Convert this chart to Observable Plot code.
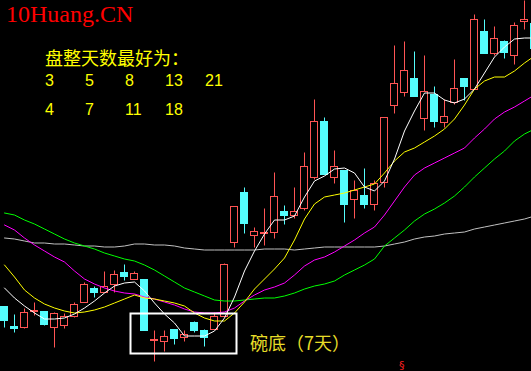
<!DOCTYPE html>
<html><head><meta charset="utf-8">
<script src="https://cdn.jsdelivr.net/npm/d3@7"></script>
<script src="https://cdn.jsdelivr.net/npm/@observablehq/plot@0.6"></script>
<style>
html,body{margin:0;padding:0;background:#000;}
#wrap{position:relative;width:531px;height:371px;overflow:hidden;background:#000;}
.lbl{position:absolute;white-space:nowrap;line-height:1;}
.cjk{font-family:"Noto Sans CJK SC","Noto Sans",sans-serif;}
</style></head><body><div id="wrap"></div>
<script>
// ---- data (price units) ----
const open  = [65,45,44,60,60,44,46,55,69,83,79,87,99,92,92,31,30,42,34,49,41,42,55,129,179,136,138,139,160,156,163,194,250,194,201,172,176,167,189,266,279,293,253,277,249,269,293,282,340,318,330,316,350,348];
const close = [51,43,59,61,47,58,55,67,87,79,85,97,95,98,41,32,35,33,37,41,34,55,107,165,148,140,139,175,156,160,205,250,197,205,167,181,167,188,254,288,301,275,280,250,255,283,285,352,318,333,319,346,352,323];
const high  = [65,57,63,69,60,59,58,69,89,85,100,101,107,100,92,41,41,42,41,50,42,59,108,165,184,144,163,199,166,184,219,272,254,221,201,191,203,191,254,326,330,320,316,285,272,312,293,357,352,345,331,349,371,348];
const low   = [44,39,43,56,46,24,43,54,69,74,79,79,91,92,41,10,20,27,30,39,25,42,55,124,138,124,126,133,147,153,161,192,197,188,149,153,163,161,184,258,275,275,241,244,244,267,271,282,318,316,313,307,342,323];
const ma5   = [84,74,66,59,53,53,54,58,64,71,79,86,89,90,81,69,58,49,36,36,36,41,54,75,101,121,138,152,152,156,175,191,196,203,204,199,185,181,191,213,241,261,279,279,272,269,273,283,299,315,325,333,334,334];
const ma10  = [107,95,82,74,68,64,61,59,60,62,65,69,73,77,74,73,71,69,66,59,54,51,51,59,70,83,93,103,114,132,153,168,175,177,179,182,185,188,199,211,220,224,230,236,243,253,267,283,291,295,295,301,309,316];
const ma20  = [147,142,134,127,121,115,110,101,93,88,84,81,79,78,75,73,70,67,63,60,59,59,60,64,71,77,82,85,89,97,106,112,115,120,126,132,139,145,157,171,185,197,204,209,214,219,224,234,243,253,260,265,271,277];
const ma30  = [159,157,152,148,143,138,133,129,126,123,119,116,113,111,107,102,96,90,84,80,76,72,71,71,72,73,74,74,76,79,83,86,88,91,97,102,107,113,126,134,142,151,158,163,169,176,185,195,204,213,221,231,238,243];
const ma60  = [134,133,131,129,129,128,128,127,126,126,125,125,126,128,128,127,127,126,124,123,122,122,122,122,122,122,123,123,123,122,123,124,125,125,125,125,125,125,126,128,130,133,135,136,138,139,140,143,145,147,149,151,153,156];
// bowl-bottom highlight (candle index range and price range)
const bowl = [{start: 12.65, end: 23.25, lowP: 18, highP: 58}];
const titleText = "10Huang.CN";
const noteText = "盘整天数最好为：";
const row1 = ["3","5","8","13","21"];
const row2 = ["4","7","11","18"];
const bowlLabel = "碗底（7天）";

const red = "#ff5454", cyan = "#54fcfc";
const candles = open.map((o, i) => ({i, o, c: close[i], h: high[i], l: low[i], up: close[i] >= o}));
const idx = d3.range(open.length);
const w = 0.35;
const crisp = {shapeRendering: "crispEdges"};

const lineMark = (arr, color) => Plot.line(idx, {x: d => d, y: d => arr[d], stroke: color, strokeWidth: 1, clip: true, style: crisp});

const chart = Plot.plot({
  width: 531, height: 371,
  marginTop: 0, marginRight: 0, marginBottom: 0, marginLeft: 0,
  style: {background: "#000", overflow: "hidden"},
  x: {domain: [-0.4, 52.7], range: [0, 531], axis: null},
  y: {domain: [0.5, 371.5], range: [371, 0], axis: null},
  marks: [
    Plot.ruleX(candles, {x: "i", y1: "l", y2: "h", stroke: d => d.up ? red : cyan, strokeWidth: 1, clip: true, style: crisp}),
    Plot.rect(candles, {x1: d => d.i - w, x2: d => d.i + w, y1: "o", y2: "c",
      fill: d => d.up ? "#000" : cyan, stroke: d => d.up ? red : cyan, strokeWidth: 1, clip: true, style: crisp}),
    lineMark(ma60, "#c0c0c0"),
    lineMark(ma30, "#00ff00"),
    lineMark(ma20, "#ff00ff"),
    lineMark(ma10, "#ffff00"),
    lineMark(ma5, "#ffffff"),
    Plot.rect(bowl, {x1: "start", x2: "end", y1: "lowP", y2: "highP", fill: "none", stroke: "#fff", strokeWidth: 2, style: crisp})
  ]
});
const wrap = document.getElementById("wrap");
wrap.appendChild(chart);

function label(text, left, top, css, cls) {
  const d = document.createElement("div");
  d.className = "lbl " + (cls || "");
  d.textContent = text;
  d.style.left = left + "px"; d.style.top = top + "px";
  Object.assign(d.style, css);
  wrap.appendChild(d);
}
label(titleText, 6, 2, {fontFamily: '"Liberation Serif", serif', fontSize: "24px", color: "#ff0000"});
label(noteText, 45, 48, {fontSize: "18px", color: "#ffff00"}, "cjk");
const cols = [45, 85, 125, 165, 205];
const digitCss = {fontSize: "16px", color: "#ffff00", fontFamily: '"Liberation Sans", sans-serif'};
row1.forEach((t, k) => label(t, cols[k], 72.5, digitCss));
row2.forEach((t, k) => label(t, cols[k], 101.5, digitCss));
label(bowlLabel, 250, 333, {fontSize: "18px", color: "#e6dc28"}, "cjk");
label("§", 399, 360, {fontSize: "11px", color: "#ff2020", fontFamily: "DejaVu Sans"});
</script></body></html>
